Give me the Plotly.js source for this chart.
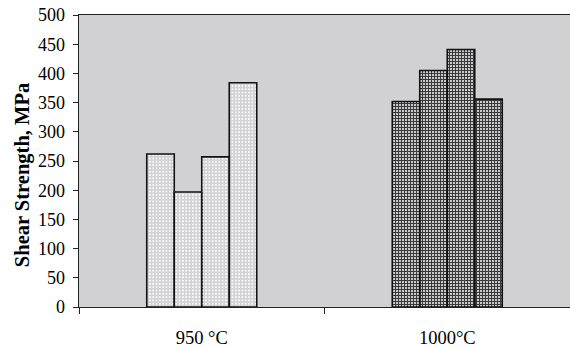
<!DOCTYPE html>
<html>
<head>
<meta charset="utf-8">
<script src="https://cdn.plot.ly/plotly-3.0.1.min.js"></script>
<style>html,body{margin:0;padding:0;overflow:hidden;background:#fff;}#chart{width:570px;height:349px;}</style>
</head>
<body>
<div id="chart"></div>
<script>
const categories = ['950 °C', '1000°C'];
const series1 = [262, 352];
const series2 = [197, 405];
const series3 = [257, 441];
const series4 = [384, 356];
const seriesList = [series1, series2, series3, series4];
const yTicks = [0, 50, 100, 150, 200, 250, 300, 350, 400, 450, 500];
const yTitle = 'Shear Strength, MPa';

const traces = seriesList.map(vals => ({
  type: 'bar',
  x: categories,
  y: vals,
  showlegend: false,
  hoverinfo: 'skip',
  marker: {
    color: ['#ffffff', '#3a3a3a'],
    line: {color: '#111', width: 1.6},
    pattern: {
      shape: ['.', '+'],
      bgcolor: ['#ffffff', '#d0d0d0'],
      fgcolor: ['#111111', '#1a1a1a'],
      size: [3.3, 3],
      solidity: [0.25, 0.6],
      fillmode: 'replace'
    }
  }
}));

const layout = {
  width: 570, height: 349,
  margin: {l: 79, r: 0, t: 15, b: 42, pad: 0},
  paper_bgcolor: '#ffffff',
  plot_bgcolor: '#d1d1d3',
  barmode: 'group',
  bargap: 0.552,
  bargroupgap: 0,
  font: {family: 'Liberation Serif, Times New Roman, serif', color: '#000', size: 18},
  xaxis: {
    type: 'category',
    tickson: 'boundaries',
    ticks: 'outside', ticklen: 6, tickcolor: '#222', tickwidth: 1,
    showline: true, linecolor: '#222', linewidth: 1.3, mirror: true,
    showgrid: false, zeroline: false,
    ticklabelstandoff: 13,
    tickfont: {size: 18.5, family: 'Liberation Serif, serif', color: '#000'}
  },
  yaxis: {
    range: [0, 500],
    tickvals: yTicks,
    ticks: 'outside', ticklen: 5, tickcolor: '#222', tickwidth: 1,
    showline: true, linecolor: '#222', linewidth: 1.3, mirror: false,
    showgrid: false, zeroline: false,
    ticklabelstandoff: 4,
    tickfont: {size: 18, family: 'Liberation Serif, serif', color: '#000'}
  },
  annotations: [{
    text: '<b>' + yTitle + '</b>',
    xref: 'paper', yref: 'paper',
    x: -0.115, y: 0.45,
    xanchor: 'center', yanchor: 'middle',
    textangle: -90, showarrow: false,
    font: {size: 20.5, family: 'Liberation Serif, serif', color: '#000'}
  }]
};

Plotly.newPlot('chart', traces, layout, {displayModeBar: false, staticPlot: true});
</script>
</body>
</html>
